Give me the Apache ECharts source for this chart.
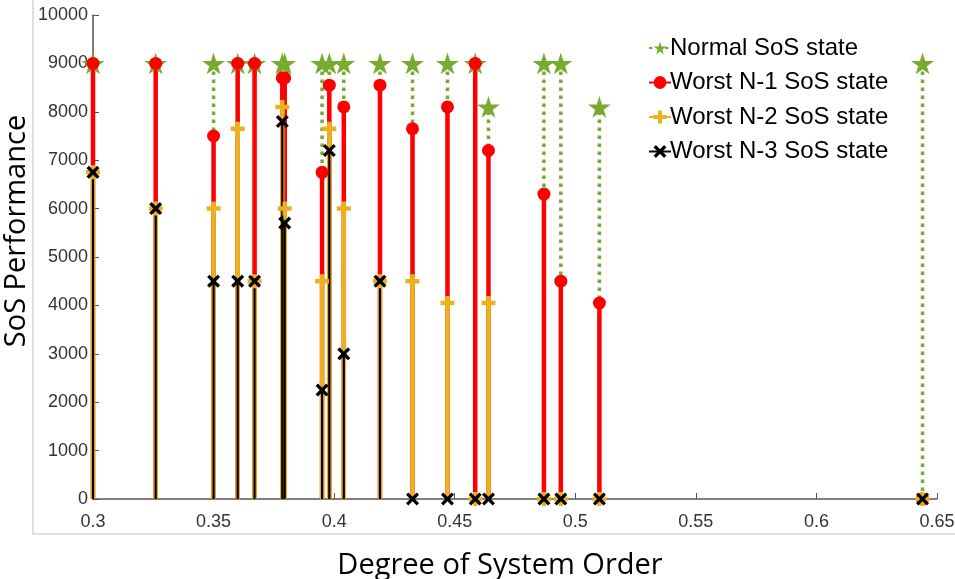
<!DOCTYPE html>
<html lang="en">

<head>
  <meta charset="UTF-8">
  <title>SoS Performance</title>
  <script src="https://cdn.jsdelivr.net/npm/echarts@6/dist/echarts.min.js"></script>
  <style>
    html, body { margin: 0; padding: 0; background: #fff; }
    #chart { width: 955px; height: 579px; }
  </style>
</head>

<body>
<div id="chart"></div>

<script>
  // degree of system order for each stem
  var orderVals = [0.300, 0.326, 0.350, 0.360, 0.367, 0.3785, 0.3795, 0.395, 0.398, 0.404,
                   0.419, 0.4325, 0.447, 0.4585, 0.464, 0.487, 0.494, 0.510, 0.644];
  // performance in each state
  var normalVals = [9000, 9000, 9000, 9000, 9000, 9000, 9000, 9000, 9000, 9000,
                    9000, 9000, 9000, 9000, 8100, 9000, 9000, 8100, 9000];
  var n1Vals = [9000, 9000, 7500, 9000, 9000, 8700, 8700, 6750, 8550, 8100,
                8550, 7650, 8100, 9000, 7200, 6300, 4500, 4050, 0];
  var n2Vals = [6750, 6000, 6000, 7650, 4500, 8100, 6000, 4500, 7650, 6000,
                4500, 4500, 4050, 0, 4050, 0, 0, 0, 0];
  var n3Vals = [6750, 6000, 4500, 4500, 4500, 7800, 5700, 2250, 7200, 3000,
                4500, 0, 0, 0, 0, 0, 0, 0, 0];
  var seriesNames = ['Normal SoS state', 'Worst N-1 SoS state', 'Worst N-2 SoS state', 'Worst N-3 SoS state'];

  var starPath = 'path://M50,0 L61,35 L98,35 L68,57 L79,91 L50,70 L21,91 L32,57 L2,35 L39,35 Z';
  var plusPath = 'path://M3.4,0 H6.6 V3.4 H10 V6.6 H6.6 V10 H3.4 V6.6 H0 V3.4 H3.4 Z';
  var crossPath = 'path://M1.8,0 L5,3.2 L8.2,0 L10,1.8 L6.8,5 L10,8.2 L8.2,10 L5,6.8 L1.8,10 L0,8.2 L3.2,5 L0,1.8 Z';

  // stem data: base point (no marker), top point (marker), break
  function stems(vals) {
    var d = [];
    orderVals.forEach(function (x, i) {
      d.push({ value: [x, 0], symbol: 'none' });
      d.push({ value: [x, vals[i]] });
      d.push({ value: [x, '-'] });
    });
    return d;
  }

  function stemSeries(name, vals, color, lineStyle, symbol, size, itemStyle) {
    return {
      name: name,
      type: 'line',
      data: stems(vals),
      symbol: symbol,
      symbolSize: size,
      symbolKeepAspect: true,
      showSymbol: true,
      showAllSymbol: true,
      connectNulls: false,
      clip: false,
      color: color,
      lineStyle: Object.assign({ color: color }, lineStyle),
      itemStyle: itemStyle,
      emphasis: { disabled: true }
    };
  }

  var titleFont = '"Open Sans", "Noto Sans", sans-serif';
  var chart = echarts.init(document.getElementById('chart'));
  var option = {
    animation: false,
    grid: { left: 93, right: 18, top: 15, bottom: 80, outerBoundsMode: 'none' },
    graphic: [{
      type: 'rect',
      shape: { x: 33, y: -2, width: 940, height: 536 },
      style: { fill: 'none', stroke: '#d6d6d6', lineWidth: 1.5 },
      silent: true
    }, {
      type: 'text',
      x: 17, y: 231,
      rotation: Math.PI / 2,
      style: {
        text: 'SoS Performance', font: '29px ' + titleFont, fill: '#000',
        align: 'center', verticalAlign: 'middle'
      },
      silent: true
    }, {
      type: 'text',
      x: 500, y: 566,
      style: {
        text: 'Degree of System Order', font: '29px ' + titleFont, fill: '#000',
        align: 'center', verticalAlign: 'middle'
      },
      silent: true
    }],
    legend: {
      orient: 'vertical',
      left: 643,
      top: 31,
      itemWidth: 22,
      itemHeight: 16,
      itemGap: 10.5,
      data: seriesNames,
      textStyle: { fontFamily: 'Liberation Sans', fontSize: 24, color: '#000', lineHeight: 24, padding: [0, 0, 0, -6] }
    },
    xAxis: {
      type: 'value',
      min: 0.3,
      max: 0.65,
      interval: 0.05,
      axisLine: { onZero: false, lineStyle: { color: '#555', width: 1.5 } },
      axisTick: { inside: true, length: 6, lineStyle: { color: '#555' } },
      axisLabel: {
        fontFamily: 'Liberation Sans', fontSize: 18, color: '#333', margin: 14,
        formatter: function (v) { return String(+v.toFixed(2)); }
      },
      splitLine: { show: false }
    },
    yAxis: {
      type: 'value',
      min: 0,
      max: 10000,
      interval: 1000,
      axisLine: { show: true, lineStyle: { color: '#555', width: 1.5 } },
      axisTick: { show: true, inside: true, length: 6, lineStyle: { color: '#555' } },
      axisLabel: {
        fontFamily: 'Liberation Sans', fontSize: 18, color: '#333', margin: 5,
        formatter: function (v) { return String(v); }
      },
      splitLine: { show: false }
    },
    series: [
      stemSeries(seriesNames[0], normalVals, '#77AC30', { width: 3.5, type: [3.5, 4.5] }, starPath, 23,
        { color: '#77AC30' }),
      stemSeries(seriesNames[1], n1Vals, '#FF0000', { width: 4.5, type: 'solid' }, 'circle', 13,
        { color: '#FF0000' }),
      stemSeries(seriesNames[2], n2Vals, '#EDB120', { width: 4.5, type: 'solid' }, plusPath, 14,
        { color: '#EDB120' }),
      stemSeries(seriesNames[3], n3Vals, '#000000', { width: 2.2, type: 'solid' }, crossPath, 13,
        { color: '#000000' })
    ]
  };
  chart.setOption(option);
</script>

</body>

</html>
